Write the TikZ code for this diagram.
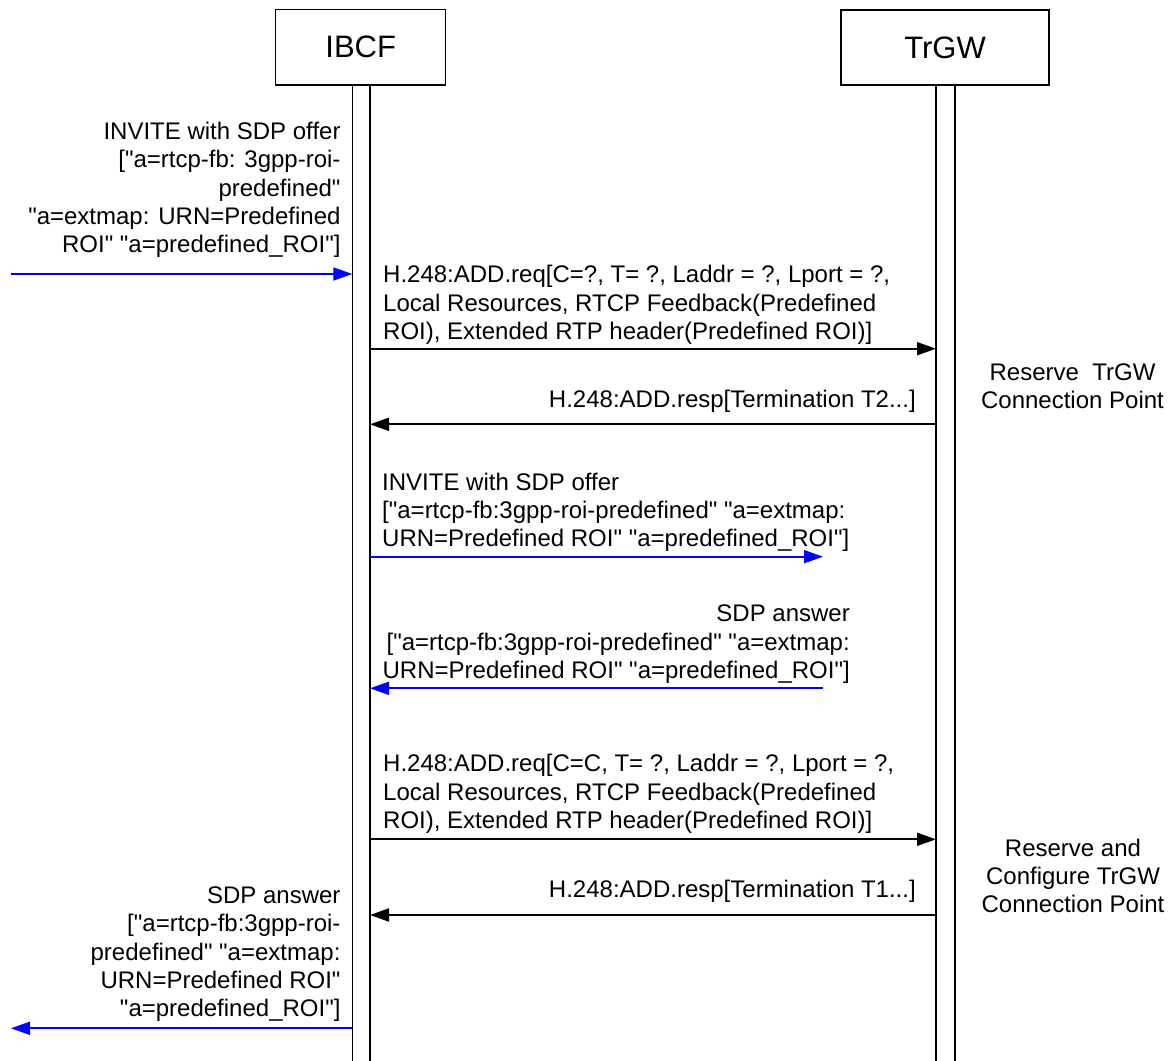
\documentclass[tikz,border=0pt]{standalone}
\usepackage{fontspec}
\setmainfont{Liberation Sans}[Ligatures=TeXOff]
\usetikzlibrary{arrows.meta}
\newcommand\mlr[1]{\begin{tabular}[t]{@{}r@{}}#1\end{tabular}}
\newcommand\mll[1]{\begin{tabular}[t]{@{}l@{}}#1\end{tabular}}
\newcommand\mlc[1]{\begin{tabular}[t]{@{}c@{}}#1\end{tabular}}
\begin{document}
\begin{tikzpicture}[x=1pt,y=-1pt,
  entity/.style={draw, line width=1.2pt, inner sep=0pt, font=\fontsize{31}{36}\selectfont},
  life/.style={line width=1.2pt},
  msg/.style={line width=1.8pt, -{Triangle[length=19pt,width=13pt]}},
  bmsg/.style={msg, draw=blue},
  txt/.style={inner sep=0pt, font=\fontsize{24}{28.4}\selectfont}]
\useasboundingbox (0,0) rectangle (1171,1061);
% entities
\node[entity, minimum width=170pt, minimum height=75.7pt] (ibcf) at (360.7,47.2) {IBCF};
\node[entity, minimum width=208pt, minimum height=75pt] (trgw) at (945,47.5) {TrGW};
% lifelines
\coordinate (iLt) at (352.3,85); \coordinate (iLb) at (352.3,1061);
\coordinate (iRt) at (370,85);   \coordinate (iRb) at (370,1061);
\coordinate (tLt) at (936,85);   \coordinate (tLb) at (936,1061);
\coordinate (tRt) at (955,85);   \coordinate (tRb) at (955,1061);
\draw[life] (iLt) -- (iLb);
\draw[life] (iRt) -- (iRb);
\draw[life] (tLt) -- (tLb);
\draw[life] (tRt) -- (tRb);
% message 1
\node[txt, anchor=base east] (t1) at (340.7,139.3) {\mlr{INVITE with SDP offer\\{[}"a=rtcp-fb: 3gpp-roi-\\predefined"\\"a=extmap: URN=Predefined\\ROI" "a=predefined\_ROI"]}};
\coordinate (m1s) at (11,274); \coordinate (m1e) at (352.3,274);
\draw[bmsg] (m1s) -- (m1e);
% message 2
\node[txt, anchor=base west] (t2) at (383,282.7) {\mll{H.248:ADD.req[C=?, T= ?, Laddr = ?, Lport = ?,\\Local Resources, RTCP Feedback(Predefined\\ROI), Extended RTP header(Predefined ROI)]}};
\coordinate (m2s) at (370,348.7); \coordinate (m2e) at (936,348.7);
\draw[msg] (m2s) -- (m2e);
\node[txt, anchor=base] (r1) at (1072.5,380) {\mlc{Reserve~~TrGW\\Connection Point}};
% message 3
\node[txt, anchor=base east] (t3) at (916,407) {H.248:ADD.resp[Termination T2...]};
\coordinate (m3s) at (936,424.3); \coordinate (m3e) at (370,424.3);
\draw[msg] (m3s) -- (m3e);
% message 4
\node[txt, anchor=base west] (t4) at (382,490) {\mll{INVITE with SDP offer\\{[}"a=rtcp-fb:3gpp-roi-predefined" "a=extmap:\\URN=Predefined ROI" "a=predefined\_ROI"]}};
\coordinate (m4s) at (370,556.7); \coordinate (m4e) at (823,556.7);
\draw[bmsg] (m4s) -- (m4e);
% message 5
\node[txt, anchor=base east] (t5) at (850,621.7) {\mlr{SDP answer\\{[}"a=rtcp-fb:3gpp-roi-predefined" "a=extmap:\\URN=Predefined ROI" "a=predefined\_ROI"]}};
\coordinate (m5s) at (823,688.3); \coordinate (m5e) at (370,688.3);
\draw[bmsg] (m5s) -- (m5e);
% message 6
\node[txt, anchor=base west] (t6) at (383,771.7) {\mll{H.248:ADD.req[C=C, T= ?, Laddr = ?, Lport = ?,\\Local Resources, RTCP Feedback(Predefined\\ROI), Extended RTP header(Predefined ROI)]}};
\coordinate (m6s) at (370,839.3); \coordinate (m6e) at (936,839.3);
\draw[msg] (m6s) -- (m6e);
\node[txt, anchor=base] (r2) at (1073,856) {\mlc{Reserve and\\Configure TrGW\\Connection Point}};
% message 7
\node[txt, anchor=base east] (t7) at (916,897) {H.248:ADD.resp[Termination T1...]};
\coordinate (m7s) at (936,915); \coordinate (m7e) at (370,915);
\draw[msg] (m7s) -- (m7e);
% message 8
\node[txt, anchor=base east] (t8) at (340.7,903.3) {\mlr{SDP answer\\{[}"a=rtcp-fb:3gpp-roi-\\predefined" "a=extmap:\\URN=Predefined ROI"\\"a=predefined\_ROI"]}};
\coordinate (m8s) at (352.3,1028.3); \coordinate (m8e) at (11,1028.3);
\draw[bmsg] (m8s) -- (m8e);
\end{tikzpicture}
\end{document}
